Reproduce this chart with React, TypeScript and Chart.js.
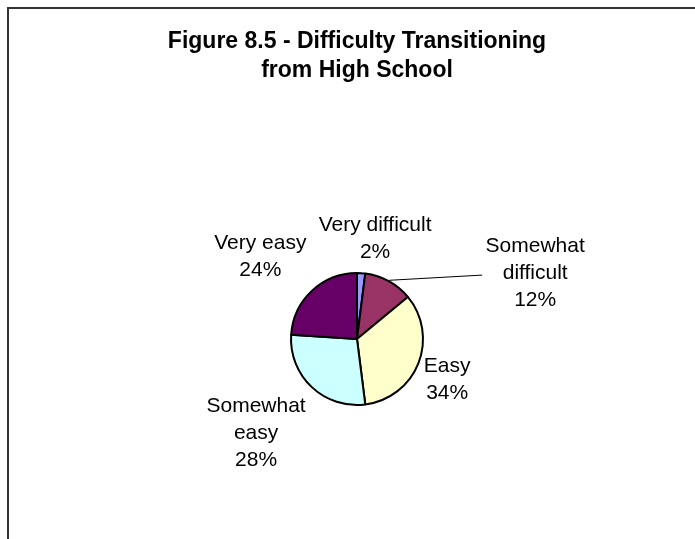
import React, { useEffect, useRef } from "react";
import { Chart, registerables } from "chart.js";

Chart.register(...registerables);

const titleLines = ["Figure 8.5 - Difficulty Transitioning", "from High School"];
const categories = ["Very difficult", "Somewhat difficult", "Easy", "Somewhat easy", "Very easy"];
const categoryLines = [["Very difficult"], ["Somewhat", "difficult"], ["Easy"], ["Somewhat", "easy"], ["Very easy"]];
const percents = [2, 12, 34, 28, 24];
const sliceColors = ["#9999FF", "#993366", "#FFFFCC", "#CCFFFF", "#660066"];

// label placement relative to each slice (radial distance in px, angular nudge in degrees)
const labelDist = [102, 190, 99, 138, 127];
const labelNudge = [6.6, 40.9, 2.8, 3.8, -6.4];
const labelLeader = [false, true, false, false, false];

const FONT = "'Liberation Sans', Arial, Helvetica, sans-serif";

const overlay = {
  id: "overlay",
  afterDraw(chart: any) {
    const ctx = chart.ctx as CanvasRenderingContext2D;
    ctx.save();
    // outer frame
    ctx.strokeStyle = "#333333";
    ctx.lineWidth = 2;
    ctx.strokeRect(8, 8, 1000, 1000);

    const meta = chart.getDatasetMeta(0);
    const first = meta.data[0];
    const pcx = first.x;

    // title
    ctx.fillStyle = "#000000";
    ctx.textAlign = "center";
    ctx.textBaseline = "middle";
    ctx.font = `bold 23px ${FONT}`;
    titleLines.forEach((t, i) => ctx.fillText(t, pcx, 42 + i * 29));

    // labels
    ctx.font = `21px ${FONT}`;
    const lineH = 27;
    meta.data.forEach((arc: any, i: number) => {
      const p = arc.getProps(["x", "y", "startAngle", "endAngle", "outerRadius"], true);
      const mid = (p.startAngle + p.endAngle) / 2;
      const a = mid + (labelNudge[i] * Math.PI) / 180;
      const bx = p.x + Math.cos(a) * labelDist[i];
      const by = p.y + Math.sin(a) * labelDist[i];
      const lines = [...categoryLines[i], percents[i] + "%"];
      const n = lines.length;
      lines.forEach((l, j) => ctx.fillText(l, bx, by + (j - (n - 1) / 2) * lineH));
      if (labelLeader[i]) {
        ctx.strokeStyle = "#000000";
        ctx.lineWidth = 1;
        ctx.beginPath();
        ctx.moveTo(p.x + Math.cos(mid) * (p.outerRadius + 1), p.y + Math.sin(mid) * (p.outerRadius + 1));
        ctx.lineTo(bx - 53, by + 2);
        ctx.stroke();
      }
    });
    ctx.restore();
  },
};

export default function App() {
  const ref = useRef<HTMLCanvasElement>(null);
  useEffect(() => {
    if (!ref.current) return;
    const chart = new Chart(ref.current, {
      type: "pie",
      data: {
        labels: categories,
        datasets: [
          {
            data: percents,
            backgroundColor: sliceColors,
            borderColor: "#000000",
            borderWidth: 2,
            hoverOffset: 0,
            offset: 0,
          },
        ],
      },
      options: {
        responsive: false,
        animation: false,
        events: [],
        layout: { padding: { top: 272, bottom: 133, left: 223, right: 204 } },
        plugins: {
          legend: { display: false },
          tooltip: { enabled: false },
          title: { display: false },
        },
      },
      plugins: [overlay],
    });
    return () => chart.destroy();
  }, []);
  return (
    <div style={{ position: "fixed", left: 0, top: 0, width: 695, height: 539, background: "#ffffff" }}>
      <canvas ref={ref} width={695} height={539} style={{ display: "block" }} />
    </div>
  );
}
